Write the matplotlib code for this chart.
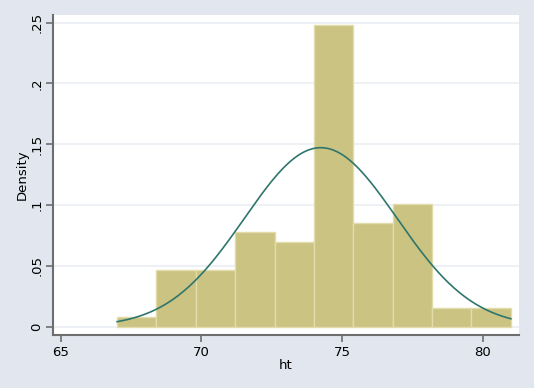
import numpy as np
import matplotlib
matplotlib.use('Agg')
import matplotlib.pyplot as plt

# histogram of ht: 10 bins of width 1.4 starting at 67
bin_edges = [67.0, 68.4, 69.8, 71.2, 72.6, 74.0, 75.4, 76.8, 78.2, 79.6, 81.0]
counts = [1, 6, 6, 10, 9, 32, 11, 13, 2, 2]
# normal overlay
ht_mean = 74.24
ht_sd = 2.71

x_ticks = [65, 70, 75, 80]
y_ticks = [0, 0.05, 0.1, 0.15, 0.2, 0.25]
y_labels = ['0', '.05', '.1', '.15', '.2', '.25']

bg = '#e1e6ef'
bar_fill = '#cbc382'
bar_edge = '#e2dcab'
line_col = '#2f766c'
axis_col = '#6e6e6e'

edges = np.array(bin_edges)
widths = np.diff(edges)
n = sum(counts)
density = np.array(counts) / (n * widths)

fig = plt.figure(figsize=(5.34, 3.88), dpi=100, facecolor=bg)
ax = fig.add_axes([53 / 534, 1 - 335 / 388, 466 / 534, 320 / 388])
ax.set_facecolor('white')

ax.bar(edges[:-1], density, width=widths, align='edge', color=bar_fill,
       edgecolor=bar_edge, linewidth=1.0, zorder=2)

xs = np.linspace(edges[0], edges[-1], 300)
pdf = np.exp(-0.5 * ((xs - ht_mean) / ht_sd) ** 2) / (ht_sd * np.sqrt(2 * np.pi))
ax.plot(xs, pdf, color=line_col, linewidth=1.2, zorder=3)

ax.set_xlim(64.72, 81.29)
ax.set_ylim(-0.0068, 0.2563)

ax.set_yticks(y_ticks)
ax.set_yticklabels(y_labels, rotation=90, va='center')
ax.set_xticks(x_ticks)
ax.grid(axis='y', color='#eaeef3', linewidth=1.2, zorder=0)
ax.set_axisbelow(True)

for s in ['top', 'right']:
    ax.spines[s].set_visible(False)
for s in ['left', 'bottom']:
    ax.spines[s].set_color(axis_col)
    ax.spines[s].set_linewidth(1.5)
ax.tick_params(colors=axis_col, labelcolor='black', length=5, width=1.2,
               labelsize=9.5, pad=3)
ax.tick_params(axis='y', pad=2)

ax.set_ylabel('Density', fontsize=9.5, labelpad=1)
ax.set_xlabel('ht', fontsize=9.5, labelpad=0)

fig.savefig('out.png', dpi=100, facecolor=bg)
